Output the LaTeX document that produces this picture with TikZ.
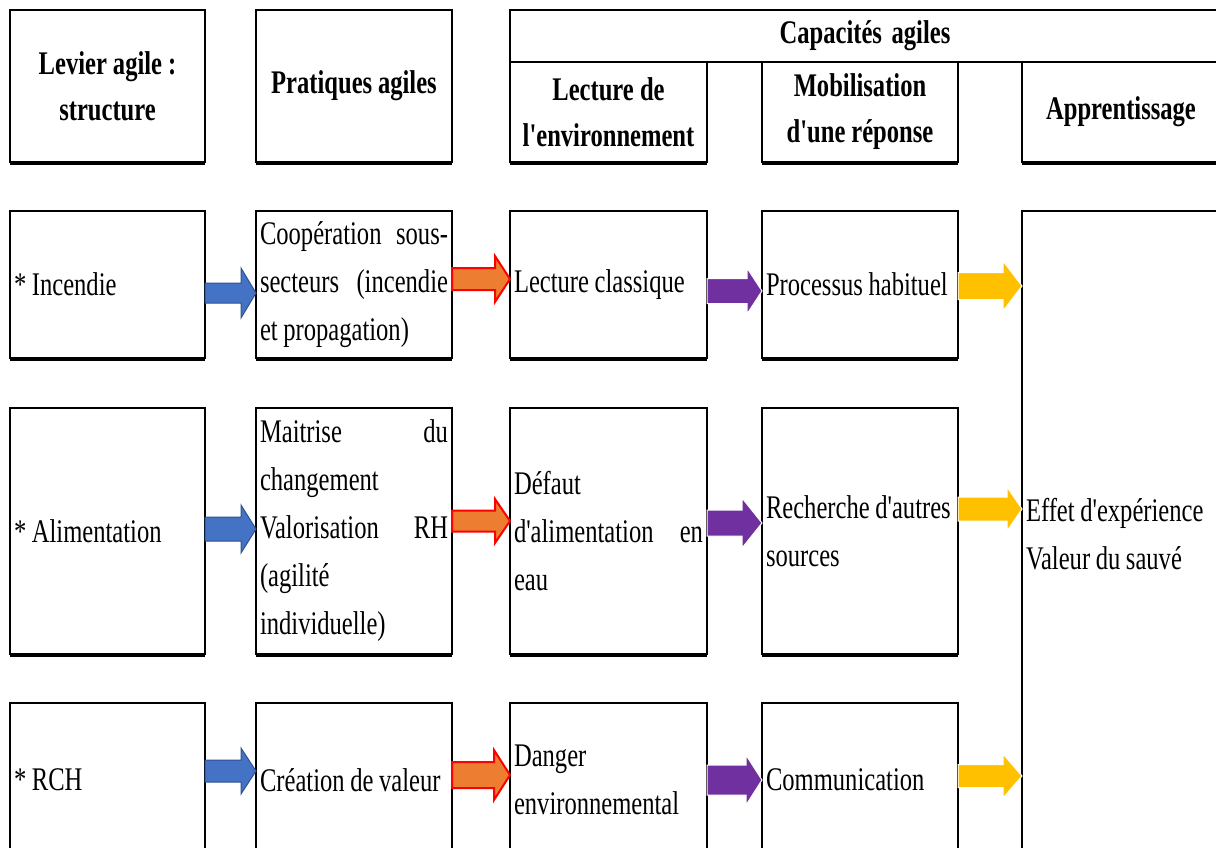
\documentclass[tikz,border=0pt]{standalone}
\usepackage{fontspec}
\setmainfont{Liberation Serif}[FakeStretch=0.745,Ligatures=TeXOff]
\usetikzlibrary{calc}
\definecolor{ablue}{HTML}{4472C4}
\definecolor{ablueline}{HTML}{2F528F}
\definecolor{aorange}{HTML}{ED7D31}
\definecolor{apurple}{HTML}{7030A0}
\definecolor{ayellow}{HTML}{FFC000}
\newcommand\mybodyfont{\fontsize{33}{48}\selectfont}
\newcommand\myheadfont{\bfseries\fontsize{33}{46}\selectfont}
\newcommand\ws{\hskip 5.6pt plus 1pt\relax}
\newcommand\blockarr[7]{%
  \coordinate (s) at (#2.east |- 0,#4);
  \coordinate (e) at (#3.west |- 0,#4);
  \draw[#1] ($(s)+(0,-#5)$) -- ($(e)+(-#7,-#5)$) -- ($(e)+(-#7,-#6)$) -- (e)
    -- ($(e)+(-#7,#6)$) -- ($(e)+(-#7,#5)$) -- ($(s)+(0,#5)$) -- cycle;}
\begin{document}
\begin{tikzpicture}[x=1pt,y=-1pt,
  box/.style={draw, line width=2pt, anchor=north west, outer sep=0pt,
    inner xsep=4pt, inner ysep=0pt, align=left, font=\mybodyfont},
  hbox/.style={box, align=center, font=\myheadfont},
  barr/.style={fill=ablue, draw=ablueline, line width=1pt},
  oarr/.style={fill=aorange, draw=red, line width=2pt},
  parr/.style={fill=apurple, draw=white, line width=1pt},
  yarr/.style={fill=ayellow, draw=white, line width=1pt}]
\useasboundingbox (0,0) rectangle (1216,847);
\clip (0,0) rectangle (1216,847);
% header
\node[hbox, minimum width=195, minimum height=152, text width=187pt] (h1) at (10,10) {Levier\ws agile\ws :\\ structure};
\node[hbox, minimum width=196, minimum height=152, text width=188pt] (h2) at (256,10) {Pratiques\ws agiles};
\node[hbox, minimum width=710, minimum height=52, text width=702pt] (hc) at (510,10) {Capacités\ws agiles};
\node[hbox, minimum width=197, minimum height=100, text width=189pt] (h3) at (510,62) {Lecture\ws de\\ l'environnement};
\node[hbox, minimum width=196, minimum height=100, text width=188pt] (h4) at (762,62) {Mobilisation\\ d'une\ws réponse};
\node[hbox, minimum width=198, minimum height=100, text width=190pt] (h5) at (1022,62) {Apprentissage};
% row 1
\node[box, minimum width=195, minimum height=147, text width=187pt] (b11) at (10,211) {*\ws Incendie};
\node[box, minimum width=196, minimum height=147, text width=188pt] (b12) at (256,211) {Coopération\hfill sous-\\ secteurs\hfill (incendie\\ et\ws propagation)};
\node[box, minimum width=197, minimum height=147, text width=189pt] (b13) at (510,211) {Lecture\ws classique};
\node[box, minimum width=196, minimum height=147, text width=188pt] (b14) at (762,211) {Processus\ws habituel};
% row 2
\node[box, minimum width=195, minimum height=246, text width=187pt] (b21) at (10,408) {*\ws Alimentation};
\node[box, minimum width=196, minimum height=246, text width=188pt] (b22) at (256,408) {Maitrise\hfill du\\ changement\\ Valorisation\hfill RH\\ (agilité\\ individuelle)};
\node[box, minimum width=197, minimum height=246, text width=189pt] (b23) at (510,408) {Défaut\\ d'alimentation\hfill en\\ eau};
\node[box, minimum width=196, minimum height=246, text width=188pt] (b24) at (762,408) {Recherche\ws d'autres\\ sources};
% row 3
\node[box, minimum width=195, minimum height=154, text width=187pt] (b31) at (10,703) {*\ws RCH};
\node[box, minimum width=196, minimum height=154, text width=188pt] (b32) at (256,703) {Création\ws de\ws valeur};
\node[box, minimum width=197, minimum height=154, text width=189pt] (b33) at (510,703) {Danger\\ environnemental};
\node[box, minimum width=196, minimum height=154, text width=188pt] (b34) at (762,703) {Communication};
% learning
\node[box, minimum width=198, minimum height=646, text width=190pt] (b5) at (1022,211) {Effet\ws d'expérience\\ Valeur\ws du\ws sauvé};
% thicker bottom edges
\foreach \n in {h1,h2,h3,h4,h5,b11,b12,b13,b14,b21,b22,b23,b24}
  \draw[line width=2pt] ([yshift=-1.5pt]\n.south west) -- ([yshift=-1.5pt]\n.south east);
% arrows row 1
\blockarr{barr}{b11}{b12}{293}{10}{25}{15}
\blockarr{oarr}{b12}{b13}{279}{11}{23}{15}
\blockarr{parr}{b13}{b14}{291}{12.5}{23}{15}
\blockarr{yarr}{b14}{b5}{286}{13.5}{25}{19}
% arrows row 2
\blockarr{barr}{b21}{b22}{529}{12}{24}{15}
\blockarr{oarr}{b22}{b23}{521}{10.5}{22}{15}
\blockarr{parr}{b23}{b24}{523}{13}{25}{20}
\blockarr{yarr}{b24}{b5}{509}{12}{22}{15}
% arrows row 3
\blockarr{barr}{b31}{b32}{771}{11}{23}{15}
\blockarr{oarr}{b32}{b33}{775}{13}{25}{16}
\blockarr{parr}{b33}{b34}{780}{15}{25}{16}
\blockarr{yarr}{b34}{b5}{776}{11.5}{22}{19}
\end{tikzpicture}
\end{document}
